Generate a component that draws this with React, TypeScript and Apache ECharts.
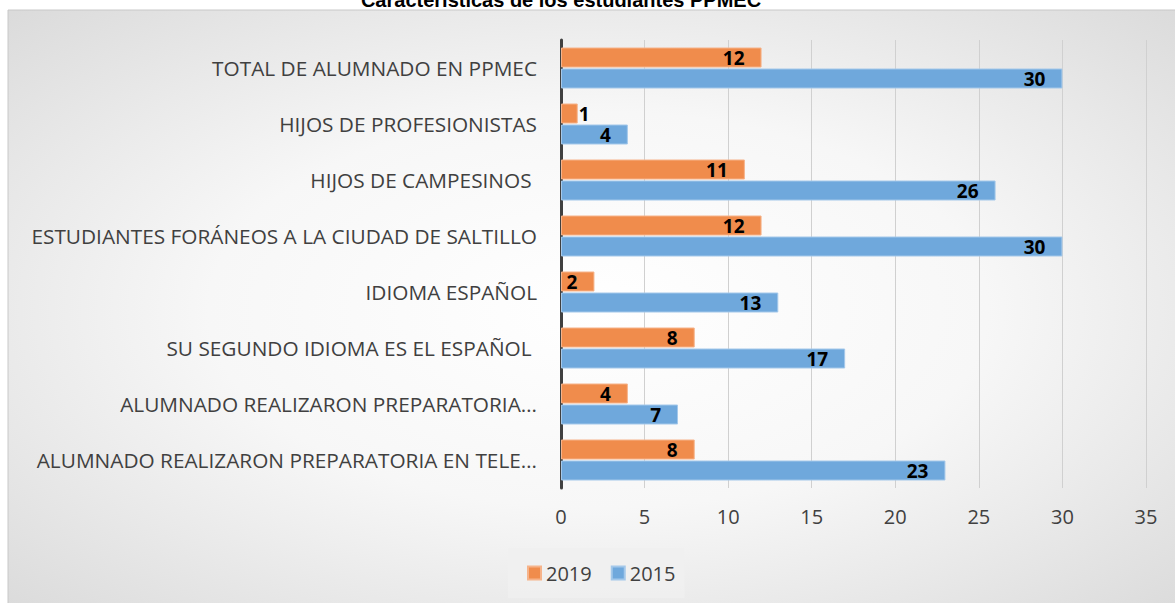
import React, { useEffect, useRef } from 'react';
import * as echarts from 'echarts';

const titleText = 'Características de los estudiantes PPMEC';
const categories = [
  'TOTAL DE ALUMNADO EN PPMEC',
  'HIJOS DE PROFESIONISTAS',
  'HIJOS DE CAMPESINOS ',
  'ESTUDIANTES FORÁNEOS A LA CIUDAD DE SALTILLO',
  'IDIOMA ESPAÑOL',
  'SU SEGUNDO IDIOMA ES EL ESPAÑOL ',
  'ALUMNADO REALIZARON PREPARATORIA…',
  'ALUMNADO REALIZARON PREPARATORIA EN TELE…',
];
const values2019 = [12, 1, 11, 12, 2, 8, 4, 8];
const values2015 = [30, 4, 26, 30, 13, 17, 7, 23];
const seriesNames = ['2019', '2015'];

export default function App() {
  const ref = useRef<HTMLDivElement>(null);
  useEffect(() => {
    document.body.style.overflow = 'hidden';
    const chart = echarts.init(ref.current!, null, { renderer: 'svg' });
    const labelFor = (v: number) =>
      v < 2
        ? { value: v, label: { position: 'right', distance: 1 } }
        : v;
    const barLabel = {
      show: true,
      position: 'insideRight',
      distance: 17,
      color: '#000000',
      fontWeight: 'bold',
      fontSize: 19,
      fontFamily: 'Open Sans',
    };
    chart.setOption({
      animation: false,
      backgroundColor: '#ffffff',
      graphic: [
        {
          type: 'rect',
          z: -10,
          silent: true,
          shape: { x: 8, y: 10, width: 1180, height: 600 },
          style: {
            fill: {
              type: 'radial',
              x: 0.5,
              y: 0.5,
              r: 1.1,
              colorStops: [
                { offset: 0, color: '#ffffff' },
                { offset: 0.3, color: '#f7f7f7' },
                { offset: 1, color: '#bdbdbd' },
              ],
            },
            stroke: '#c8c8c8',
            lineWidth: 1,
          },
        },
        {
          type: 'text',
          z: 10,
          silent: true,
          style: {
            text: titleText,
            x: 561,
            y: -10,
            textAlign: 'center',
            textVerticalAlign: 'top',
            font: 'bold 20px "Liberation Sans", Arial, sans-serif',
            fill: '#000000',
          },
        },
      ],
      grid: { left: 561, right: 29, top: 40, height: 448, containLabel: false },
      xAxis: {
        type: 'value',
        min: 0,
        max: 35,
        interval: 5,
        axisLine: { show: false },
        axisTick: { show: false },
        axisLabel: { color: '#404040', fontSize: 20, fontFamily: 'Open Sans', margin: 18 },
        splitLine: { lineStyle: { color: '#d0d0d0', width: 1 } },
      },
      yAxis: {
        type: 'category',
        inverse: true,
        data: categories,
        axisLine: { lineStyle: { color: '#404040', width: 3 } },
        axisTick: { show: false },
        axisLabel: { color: '#404040', fontSize: 20.8, fontFamily: 'Open Sans', margin: 24 },
      },
      legend: {
        left: 508,
        top: 548,
        padding: [15, 9, 15, 19],
        backgroundColor: 'rgba(240,240,240,0.85)',
        itemWidth: 13,
        itemHeight: 13,
        itemGap: 19,
        icon: 'rect',
        textStyle: { color: '#404040', fontSize: 20, fontFamily: 'Open Sans' },
        data: seriesNames,
      },
      series: [
        {
          name: seriesNames[0],
          type: 'bar',
          data: values2019.map(labelFor),
          barWidth: 20,
          barGap: '5%',
          itemStyle: { color: '#f08c4c', borderColor: '#f6b38a', borderWidth: 1 },
          label: barLabel,
        },
        {
          name: seriesNames[1],
          type: 'bar',
          data: values2015.map(labelFor),
          barWidth: 20,
          barGap: '5%',
          itemStyle: { color: '#6fa8dc', borderColor: '#a4c8ea', borderWidth: 1 },
          label: barLabel,
        },
      ],
    });
    return () => chart.dispose();
  }, []);
  return (
    <div
      ref={ref}
      style={{ position: 'fixed', left: 0, top: 0, width: 1175, height: 603 }}
    />
  );
}
